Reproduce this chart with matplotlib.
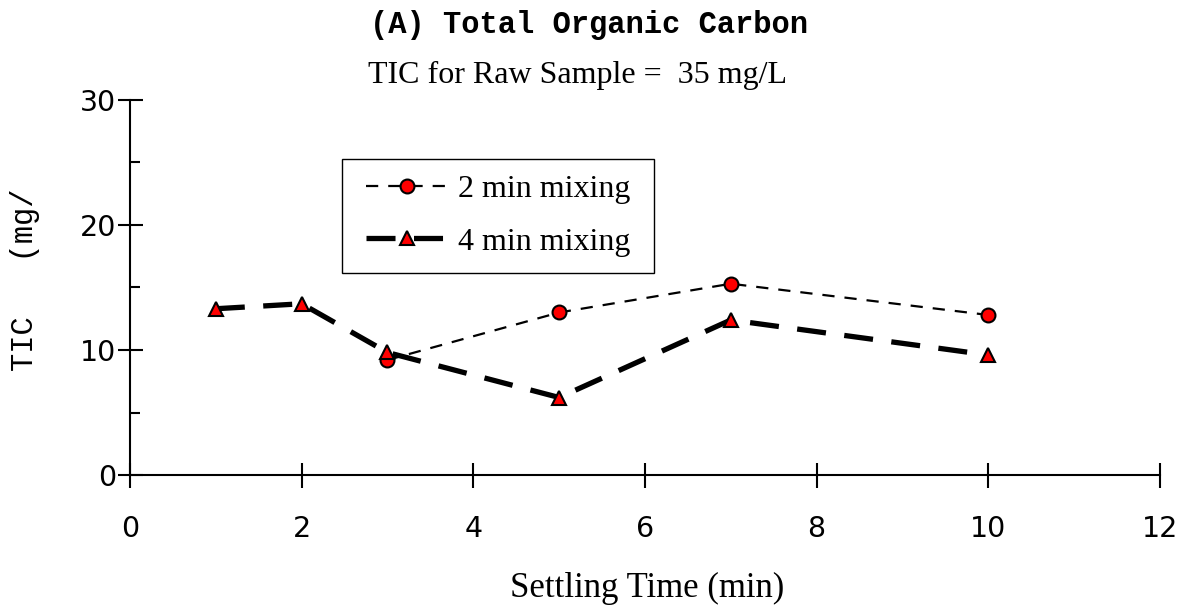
import matplotlib
matplotlib.use('Agg')
import matplotlib.pyplot as plt
from matplotlib.patches import Rectangle
from matplotlib.ticker import MultipleLocator

# settling time (min) and TIC (mg/L)
t_2min = [3, 5, 7, 10]
tic_2min = [9.2, 13.0, 15.3, 12.8]
t_4min = [1, 2, 3, 5, 7, 10]
tic_4min = [13.3, 13.7, 9.8, 6.2, 12.4, 9.6]

label_2min = '2 min mixing'
label_4min = '4 min mixing'
xticks = [0, 2, 4, 6, 8, 10, 12]
yticks = [0, 10, 20, 30]

fig = plt.figure(figsize=(11.89, 6.10), dpi=100)
ax = fig.add_axes([0.1093, 0.2213, 0.8663, 0.6148])

ax.plot(t_2min, tic_2min, color='black', lw=1.6, ls=(0, (5.5, 4.5)),
        marker='o', ms=10, mfc='red', mec='black', mew=1.5, label=label_2min)
ax.plot(t_4min, tic_4min, color='black', lw=3.8, ls=(0, (5.5, 3.5)),
        marker='^', ms=10, mfc='red', mec='black', mew=1.5, label=label_4min)

ax.set_xlim(0, 12)
ax.set_ylim(0, 30)
ax.set_xticks(xticks)
ax.set_yticks(yticks)
ax.yaxis.set_minor_locator(MultipleLocator(5))

for side in ['top', 'right']:
    ax.spines[side].set_visible(False)
for side in ['left', 'bottom']:
    ax.spines[side].set_linewidth(1.5)

ax.tick_params(axis='both', which='major', direction='inout', length=18, width=1.5,
               labelsize=20.5)
ax.tick_params(axis='x', which='major', pad=20)
ax.tick_params(axis='y', which='major', pad=1)
ax.tick_params(axis='y', which='minor', direction='in', length=7, width=1.5)

# legend without its own frame; a wider box is drawn round it below
leg = ax.legend(loc='upper left', bbox_to_anchor=(0.2136, 0.8427), borderaxespad=0,
                frameon=False, handlelength=2.57,
                prop={'family': 'Liberation Serif', 'size': 23},
                borderpad=0.5, labelspacing=0.72, handletextpad=0.31)

fig.text(0.495, 0.946, '(A) Total Organic Carbon', ha='center', va='baseline',
         family='Liberation Mono', weight='bold', size=22)
fig.text(0.486, 0.864, 'TIC for Raw Sample =  35 mg/L', ha='center', va='baseline',
         family='Liberation Serif', size=23)
fig.text(0.021, 0.541, 'TIC   (mg/', ha='center', va='center', rotation=90,
         family='Liberation Mono', size=22)
fig.text(0.544, 0.0213, 'Settling Time (min)', ha='center', va='baseline',
         family='Liberation Serif', size=25)

fig.canvas.draw()
bb = leg.get_window_extent()
box = fig.transFigure.inverted().transform_bbox(bb.expanded((bb.width + 16) / bb.width, 1.0))
fig.add_artist(Rectangle((box.x0, box.y0), box.width, box.height,
                         transform=fig.transFigure, fill=False, ec='black', lw=1.0))

fig.savefig('out.png', dpi=100)
